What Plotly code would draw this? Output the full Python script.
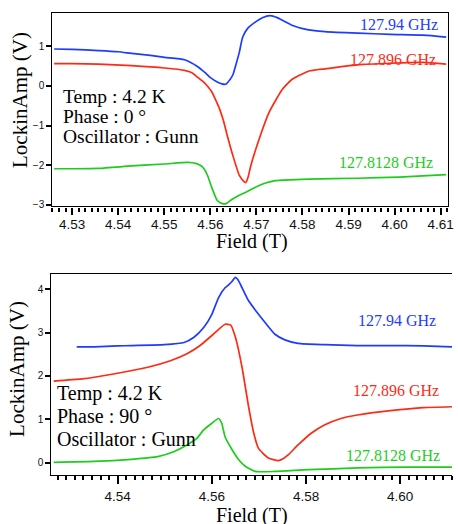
import plotly.graph_objects as go

# ---------- data: Phase 0 (top) ----------
blue0_x = [4.5261, 4.5300, 4.5358, 4.5400, 4.5429, 4.5470, 4.5501, 4.5544, 4.5572, 4.5590, 4.5601,
           4.5615, 4.5625, 4.5633, 4.5642, 4.5649, 4.5656, 4.5663, 4.5670, 4.5681, 4.5699, 4.5713,
           4.5730, 4.5745, 4.5760, 4.5777, 4.5813, 4.5849, 4.5920, 4.5991, 4.6063, 4.6112]
blue0_y = [0.93, 0.92, 0.89, 0.86, 0.82, 0.77, 0.72, 0.66, 0.49, 0.32, 0.20,
           0.10, 0.05, 0.04, 0.15, 0.28, 0.55, 0.85, 1.22, 1.45, 1.62, 1.72,
           1.77, 1.72, 1.63, 1.53, 1.41, 1.37, 1.33, 1.30, 1.28, 1.23]

red0_x = [4.5261, 4.5300, 4.5358, 4.5429, 4.5501, 4.5544, 4.5560, 4.5572, 4.5585, 4.5594, 4.5603,
          4.5611, 4.5620, 4.5629, 4.5636, 4.5649, 4.5663, 4.5672, 4.5677, 4.5682, 4.5688, 4.5706,
          4.5727, 4.5745, 4.5756, 4.5777, 4.5813, 4.5849, 4.5920, 4.5991, 4.6063, 4.6112]
red0_y = [0.56, 0.56, 0.55, 0.51, 0.45, 0.39, 0.33, 0.22, 0.10, -0.01, -0.15,
          -0.34, -0.58, -0.90, -1.22, -1.76, -2.26, -2.40, -2.44, -2.30, -2.01, -1.34,
          -0.68, -0.30, -0.09, 0.16, 0.37, 0.43, 0.53, 0.57, 0.59, 0.55]

green0_x = [4.5261, 4.5300, 4.5358, 4.5429, 4.5501, 4.5551, 4.5570, 4.5579, 4.5587, 4.5594, 4.5604,
            4.5615, 4.5626, 4.5634, 4.5645, 4.5656, 4.5677, 4.5699, 4.5720, 4.5741, 4.5813, 4.5920,
            4.6010, 4.6112]
green0_y = [-2.09, -2.09, -2.08, -2.02, -1.97, -1.93, -1.96, -2.01, -2.10, -2.26, -2.59,
            -2.89, -2.97, -2.97, -2.88, -2.80, -2.68, -2.55, -2.45, -2.39, -2.35, -2.33,
            -2.30, -2.24]

# ---------- data: Phase 90 (bottom) ----------
blue90_x = [4.5313, 4.5350, 4.5400, 4.5429, 4.5499, 4.5541, 4.5562, 4.5583, 4.5600, 4.5614, 4.5628,
            4.5636, 4.5643, 4.5650, 4.5655, 4.5661, 4.5678, 4.5699, 4.5713, 4.5734, 4.5755, 4.5783,
            4.5839, 4.5909, 4.5979, 4.6049, 4.6110]
blue90_y = [2.67, 2.67, 2.69, 2.70, 2.72, 2.77, 2.89, 3.12, 3.42, 3.80, 4.03,
            4.10, 4.18, 4.27, 4.22, 4.10, 3.73, 3.42, 3.23, 2.96, 2.83, 2.75,
            2.72, 2.70, 2.70, 2.69, 2.67]

red90_x = [4.5264, 4.5324, 4.5394, 4.5464, 4.5512, 4.5547, 4.5575, 4.5603, 4.5628, 4.5640, 4.5650,
           4.5664, 4.5678, 4.5689, 4.5699, 4.5720, 4.5741, 4.5752, 4.5762, 4.5783, 4.5811, 4.5839,
           4.5874, 4.5909, 4.5979, 4.6049, 4.6110]
red90_y = [1.88, 1.93, 2.05, 2.20, 2.35, 2.51, 2.70, 2.96, 3.19, 3.17, 2.89,
           2.20, 1.29, 0.68, 0.33, 0.11, 0.05, 0.10, 0.18, 0.41, 0.68, 0.87,
           1.02, 1.10, 1.20, 1.27, 1.29]

green90_x = [4.5264, 4.5349, 4.5429, 4.5485, 4.5520, 4.5547, 4.5568, 4.5582, 4.5600, 4.5614, 4.5621,
             4.5628, 4.5643, 4.5657, 4.5671, 4.5692, 4.5734, 4.5804, 4.5909, 4.6014, 4.6110]
green90_y = [0.01, 0.03, 0.08, 0.14, 0.26, 0.41, 0.56, 0.75, 0.91, 1.02, 0.91,
             0.60, 0.30, 0.07, -0.08, -0.20, -0.20, -0.16, -0.12, -0.10, -0.10]

freq_labels = ["127.94 GHz", "127.896 GHz", "127.8128 GHz"]
info_top = ["Temp : 4.2 K", "Phase : 0 °", "Oscillator : Gunn"]
info_bot = ["Temp : 4.2 K", "Phase : 90 °", "Oscillator : Gunn"]
x_title = "Field (T)"
y_title = "LockinAmp (V)"

# ---------- styling ----------
W, H = 458, 524
BLUE, RED, GREEN = "#1e3cff", "#ff2a14", "#1ecc1e"
SERIF = "Liberation Serif, Times New Roman, serif"
SANS = "Liberation Sans, Arial, sans-serif"

TOP_RANGE = [4.5257, 4.6116]
BOT_RANGE = [4.5259, 4.6110]


def minor_vals(start, step, lo, hi):
    """Minor tick positions (axis decoration, not data)."""
    vals = []
    k = -20
    while True:
        v = start + k * step
        if v > hi:
            break
        if v >= lo:
            vals.append(round(v, 6))
        k += 1
    return vals


TOP_MINOR = minor_vals(4.53, 0.01 / 7, *TOP_RANGE)
BOT_MINOR = minor_vals(4.54, 0.02 / 11, *BOT_RANGE)


def px(x):
    return x / W


def py(y):
    return 1 - y / H


fig = go.Figure()
for xs, ys, c in [(blue0_x, blue0_y, BLUE), (red0_x, red0_y, RED), (green0_x, green0_y, GREEN)]:
    fig.add_trace(go.Scatter(x=xs, y=ys, mode="lines", xaxis="x", yaxis="y",
                             line=dict(color=c, width=1.7, shape="spline", smoothing=0.5),
                             showlegend=False, hoverinfo="skip"))
for xs, ys, c in [(blue90_x, blue90_y, BLUE), (red90_x, red90_y, RED), (green90_x, green90_y, GREEN)]:
    fig.add_trace(go.Scatter(x=xs, y=ys, mode="lines", xaxis="x2", yaxis="y2",
                             line=dict(color=c, width=1.7, shape="spline", smoothing=0.5),
                             showlegend=False, hoverinfo="skip"))

axcommon = dict(showgrid=False, zeroline=False, showline=True, linecolor="#000", linewidth=1.2,
                ticks="outside", tickcolor="#000", tickwidth=1.5)
minor_style = dict(ticks="outside", ticklen=4, tickcolor="#000", tickwidth=1.5, showgrid=False)

fig.update_layout(
    width=W, height=H,
    margin=dict(l=0, r=0, t=0, b=0),
    paper_bgcolor="white", plot_bgcolor="white",
    xaxis=dict(domain=[px(53), px(454)], anchor="y", range=TOP_RANGE, type="linear",
               tickmode="linear", tick0=4.53, dtick=0.01, tickformat=".2f", ticklen=7, mirror=True,
               ticklabeloverflow="allow", ticklabelstandoff=-2,
               tickfont=dict(family=SANS, size=13.5, color="#111"),
               minor=dict(tickmode="array", tickvals=TOP_MINOR, **minor_style),
               **axcommon),
    yaxis=dict(domain=[py(208), py(13)], anchor="x", range=[-3.04, 1.84],
               tick0=0, dtick=1, ticklen=5, mirror=True,
               tickfont=dict(family=SANS, size=10, color="#111"),
               **axcommon),
    xaxis2=dict(domain=[px(52), 1.0], anchor="y2", range=BOT_RANGE, type="linear",
                tickmode="linear", tick0=4.54, dtick=0.02, tickformat=".2f", ticklen=8, mirror=True,
                ticklabeloverflow="allow",
                tickfont=dict(family=SANS, size=13.5, color="#111"),
                minor=dict(tickmode="array", tickvals=BOT_MINOR, **minor_style),
                **axcommon),
    yaxis2=dict(domain=[py(479), py(276)], anchor="x2", range=[-0.29, 4.35],
                tick0=0, dtick=1, ticklen=5,
                tickfont=dict(family=SANS, size=10, color="#111"),
                **axcommon),
)

ann = []


def add_text(text, x, y, size, color="black", xanchor="left", angle=0):
    ann.append(dict(text=text, x=px(x), y=py(y), xref="paper", yref="paper",
                    xanchor=xanchor, yanchor="middle", showarrow=False, textangle=angle,
                    font=dict(family=SERIF, size=size, color=color)))


# info text
for i, t in enumerate(info_top):
    add_text(t, 62, [97, 117, 138][i], 19.5)
for i, t in enumerate(info_bot):
    add_text(t, 56, [397, 419, 442][i], 20)

# series labels
cols = [BLUE, RED, GREEN]
for t, c, (x, y) in zip(freq_labels, cols, [(446, 25), (444, 60), (441, 164)]):
    add_text(t, x, y, 16, c, xanchor="right")
for t, c, (x, y) in zip(freq_labels, cols, [(444, 323), (447, 393), (448, 459)]):
    add_text(t, x, y, 16, c, xanchor="right")

# axis titles
add_text(y_title, 20, 101, 21, angle=-90, xanchor="center")
add_text(y_title, 17, 372, 21, angle=-90, xanchor="center")
add_text(x_title, 255, 243, 20, xanchor="center")
add_text(x_title, 255, 519, 20, xanchor="center")

fig.update_layout(annotations=ann)
fig.write_html("out.html")
